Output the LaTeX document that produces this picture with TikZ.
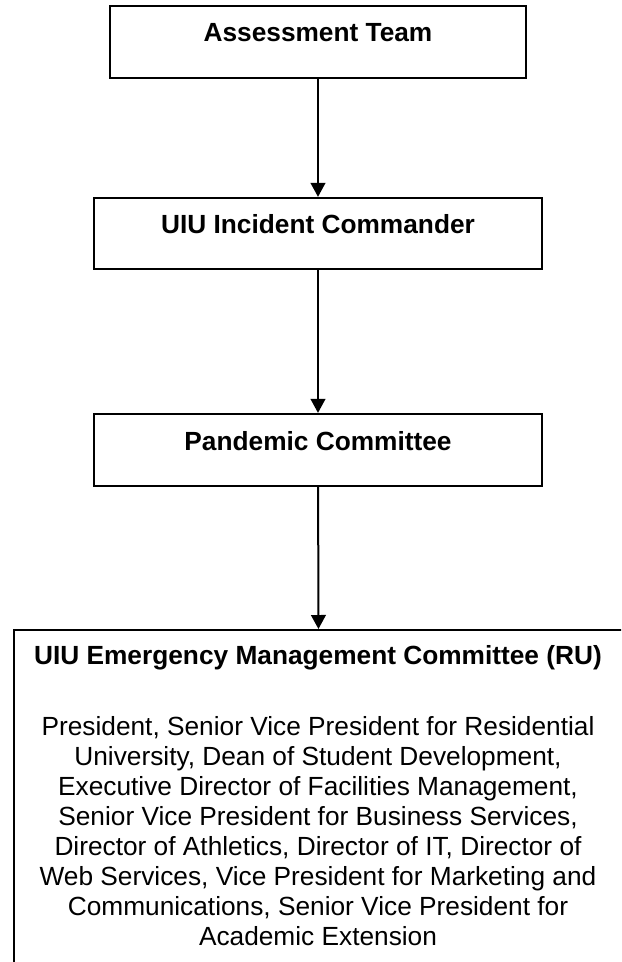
\documentclass[tikz,border=0pt]{standalone}
\usepackage{fontspec}
\setmainfont{Liberation Sans}
\usetikzlibrary{arrows.meta}

\tikzset{
  stepbox/.style={draw, line width=1.7pt, text height=14.5pt, text depth=14.5pt, font=\bfseries},
  flow/.style={line width=1.5pt, -{Triangle[length=10.5pt,width=11pt]}}
}

\begin{document}
\begin{tikzpicture}[x=0.75pt,y=-0.75pt]
\fontsize{19.7pt}{22.5pt}\selectfont
\useasboundingbox (0,0) rectangle (621,962);
\clip (0,0) rectangle (621,962);

\node[stepbox, minimum width=312pt, minimum height=54pt] (team) at (318,42) {Assessment Team};
\node[stepbox, minimum width=336pt, minimum height=53.25pt] (ic) at (318,233.5) {UIU Incident Commander};
\node[stepbox, minimum width=336.5pt, minimum height=54pt] (pandemic) at (318,450) {Pandemic Committee};

% committee box runs off the page
\node[draw, line width=1.7pt, anchor=north west, minimum width=457.5pt, minimum height=400pt] (emc) at (13,629) {};
\node[font=\bfseries, anchor=base] (emctitle) at (318,664) {UIU Emergency Management Committee (RU)};
\node[align=center, anchor=north, inner sep=0pt] (emcbody) at (318,716) {President, Senior Vice President for Residential\\
University, Dean of Student Development,\\
Executive Director of Facilities Management,\\
Senior Vice President for Business Services,\\
Director of Athletics, Director of IT, Director of\\
Web Services, Vice President for Marketing and\\
Communications, Senior Vice President for\\
Academic Extension};

\draw[flow] (team) -- (ic);
\draw[flow] (ic) -- (pandemic);
\draw[flow] (pandemic) -- (emc);
\end{tikzpicture}
\end{document}
